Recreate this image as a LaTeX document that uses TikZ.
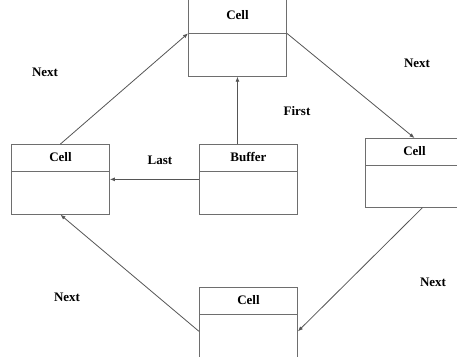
\documentclass[tikz,border=0pt]{standalone}
\usepackage{fontspec}
\setmainfont{Liberation Serif}
\usepackage{xcolor}
\usepackage{tikz}
\usetikzlibrary{positioning,arrows.meta,shapes.multipart}

\definecolor{linegray}{RGB}{85,85,85}
\definecolor{boxgray}{RGB}{110,110,110}

\begin{document}
\begin{tikzpicture}[x=1pt, y=-1pt,
    cellbox/.style={draw=boxgray, line width=0.9pt, rectangle split, rectangle split parts=2,
        rectangle split draw splits=true, inner sep=0pt, minimum width=98pt,
        anchor=north west, font=\fontsize{13}{15}\selectfont\bfseries},
    link/.style={draw=linegray, line width=0.8pt, -{Latex[length=5pt,width=4pt]}},
    lbl/.style={font=\fontsize{13}{15}\selectfont\bfseries}]
\useasboundingbox (0,0) rectangle (457,356);
\clip (0,0) rectangle (457,356);

\node[cellbox] (cell_top) at (188,-1) {\rule[-13pt]{0pt}{33pt}Cell\nodepart{two}\rule{0pt}{42pt}};
\node[cellbox] (cell_left) at (11,144) {\rule[-9pt]{0pt}{26pt}Cell\nodepart{two}\rule{0pt}{42pt}};
\node[cellbox] (buffer) at (199,144) {\rule[-9pt]{0pt}{26pt}Buffer\nodepart{two}\rule{0pt}{42pt}};
\node[cellbox] (cell_right) at (365,138) {\rule[-9pt]{0pt}{26pt}Cell\nodepart{two}\rule{0pt}{41pt}};
\node[cellbox] (cell_bottom) at (199,287) {\rule[-9pt]{0pt}{26pt}Cell\nodepart{two}\rule{0pt}{60pt}};

\path[link] (cell_left.north) -- (cell_top.one split west);
\path[link] (cell_top.one split east) -- (cell_right.north);
\path[link] (buffer.north -| cell_top.south) -- (cell_top.south);
\path[link] (buffer.west) -- (cell_left.east);
\path[link] ([xshift=8pt]cell_right.south) -- (cell_bottom.east);
\path[link] (cell_bottom.west) -- (cell_left.south);

\node[lbl] (next_tl) at (45,72) {Next};
\node[lbl] (next_tr) at (417,63) {Next};
\node[lbl] (first) at (297,111) {First};
\node[lbl] (last) at (160,160) {Last};
\node[lbl] (next_br) at (433,282) {Next};
\node[lbl] (next_bl) at (67,297) {Next};

\end{tikzpicture}
\end{document}
